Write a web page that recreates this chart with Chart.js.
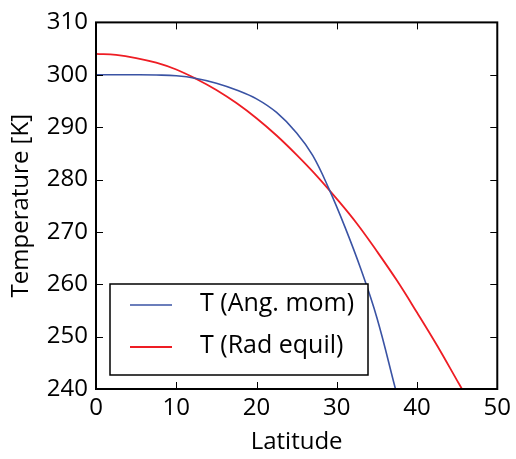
<!DOCTYPE html>
<html>
<head>
<meta charset="utf-8">
<script src="https://cdn.jsdelivr.net/npm/chart.js@4.4.1/dist/chart.umd.min.js"></script>
<style>
  html, body { margin: 0; padding: 0; background: #fff; }
  canvas { display: block; }
</style>
</head>
<body>
<canvas id="tempChart" width="516" height="459"></canvas>
<script>
(function() {
  'use strict';

  // latitude (deg) / temperature (K) along each profile
  var angMomLat  = [0, 2.5, 5, 7.5, 10, 12.5, 15, 17.5, 20, 22.5, 25, 27, 29, 31, 33, 35, 37.3];
  var angMomTemp = [300, 300, 300, 299.95, 299.8, 299.3, 298.4, 297.1, 295.4, 292.8, 288.9, 284.6, 278.3, 271.0, 262.9, 253.6, 240.1];

  var radEqLat  = [0, 2.5, 5, 7.5, 10, 12.5, 15, 17.5, 20, 22.5, 25, 27.5, 30, 32.5, 35, 37.5, 40, 42.5, 45, 45.6];
  var radEqTemp = [304, 303.8, 303.2, 302.3, 301.0, 299.2, 297.1, 294.6, 291.7, 288.4, 284.7, 280.7, 276.3, 271.6, 266.3, 260.7, 254.6, 248.3, 241.6, 240.0];

  var seriesLabels = ['T (Ang. mom)', 'T (Rad equil)'];
  var latTicks  = [0, 10, 20, 30, 40, 50];
  var tempTicks = [240, 250, 260, 270, 280, 290, 300, 310];

  var FONT = '"Open Sans", "DejaVu Sans", sans-serif';
  Chart.defaults.font.family = FONT;
  Chart.defaults.color = '#000';

  function toPoints(xs, ys) {
    return xs.map(function(x, i) { return { x: x, y: ys[i] }; });
  }

  // frame, inward ticks on all four sides, and the boxed legend
  var framePlugin = {
    id: 'frame',
    afterDraw: function(chart) {
      var ctx = chart.ctx;
      var a = chart.chartArea;
      var xs = chart.scales.x, ys = chart.scales.y;
      var len = 7;

      ctx.save();
      ctx.strokeStyle = '#000';
      ctx.lineWidth = 1;
      ctx.beginPath();
      latTicks.forEach(function(v) {
        var px = Math.round(xs.getPixelForValue(v)) + 0.5;
        ctx.moveTo(px, a.bottom); ctx.lineTo(px, a.bottom - len);
        ctx.moveTo(px, a.top);    ctx.lineTo(px, a.top + len);
      });
      tempTicks.forEach(function(v) {
        var py = Math.round(ys.getPixelForValue(v)) + 0.5;
        ctx.moveTo(a.left, py);  ctx.lineTo(a.left + len, py);
        ctx.moveTo(a.right, py); ctx.lineTo(a.right - len, py);
      });
      ctx.stroke();

      ctx.lineWidth = 2;
      ctx.strokeRect(a.left, a.top, a.right - a.left, a.bottom - a.top);

      // legend
      ctx.fillStyle = '#fff';
      ctx.fillRect(110, 284, 258, 91);
      ctx.lineWidth = 1.5;
      ctx.strokeRect(110, 284, 258, 91);
      ctx.font = '25px ' + FONT;
      ctx.textBaseline = 'middle';
      ctx.textAlign = 'left';
      chart.data.datasets.forEach(function(ds, i) {
        var y = 305 + i * 42;
        ctx.strokeStyle = ds.borderColor;
        ctx.lineWidth = ds.borderWidth;
        ctx.beginPath();
        ctx.moveTo(130, y); ctx.lineTo(172, y);
        ctx.stroke();
        ctx.fillStyle = '#000';
        ctx.fillText(ds.label, 200, y - 1);
      });
      ctx.restore();
    }
  };

  var ctx = document.getElementById('tempChart');

  var tempChart = new Chart(ctx, {
    type: 'line',
    data: {
      datasets: [
        {
          label: seriesLabels[0],
          data: toPoints(angMomLat, angMomTemp),
          borderColor: '#3a53a4',
          borderWidth: 1.6,
          pointRadius: 0,
          tension: 0.4,
          fill: false
        },
        {
          label: seriesLabels[1],
          data: toPoints(radEqLat, radEqTemp),
          borderColor: '#ee1d24',
          borderWidth: 1.8,
          pointRadius: 0,
          tension: 0.4,
          fill: false
        }
      ]
    },
    options: {
      responsive: false,
      animation: false,
      layout: { padding: { top: 19, right: 17, left: 0, bottom: 0 } },
      plugins: {
        legend: { display: false },
        tooltip: { enabled: false }
      },
      scales: {
        x: {
          type: 'linear',
          min: 0,
          max: 50,
          afterFit: function(scale) { scale.height = 70; },
          afterBuildTicks: function(scale) {
            scale.ticks = latTicks.map(function(v) { return { value: v }; });
          },
          grid: { display: false, drawTicks: false },
          border: { display: false },
          ticks: { font: { size: 24 }, padding: 5, maxRotation: 0 },
          title: {
            display: true,
            text: 'Latitude',
            font: { size: 24 },
            padding: { top: 0, bottom: 2 }
          }
        },
        y: {
          type: 'linear',
          min: 240,
          max: 310,
          afterFit: function(scale) { scale.width = 96; },
          afterBuildTicks: function(scale) {
            scale.ticks = tempTicks.map(function(v) { return { value: v }; });
          },
          grid: { display: false, drawTicks: false },
          border: { display: false },
          ticks: { font: { size: 24 }, padding: 8 },
          title: {
            display: true,
            text: 'Temperature [K]',
            font: { size: 24 },
            padding: { top: 7, bottom: 0 }
          }
        }
      }
    },
    plugins: [framePlugin]
  });
})();
</script>
</body>
</html>
